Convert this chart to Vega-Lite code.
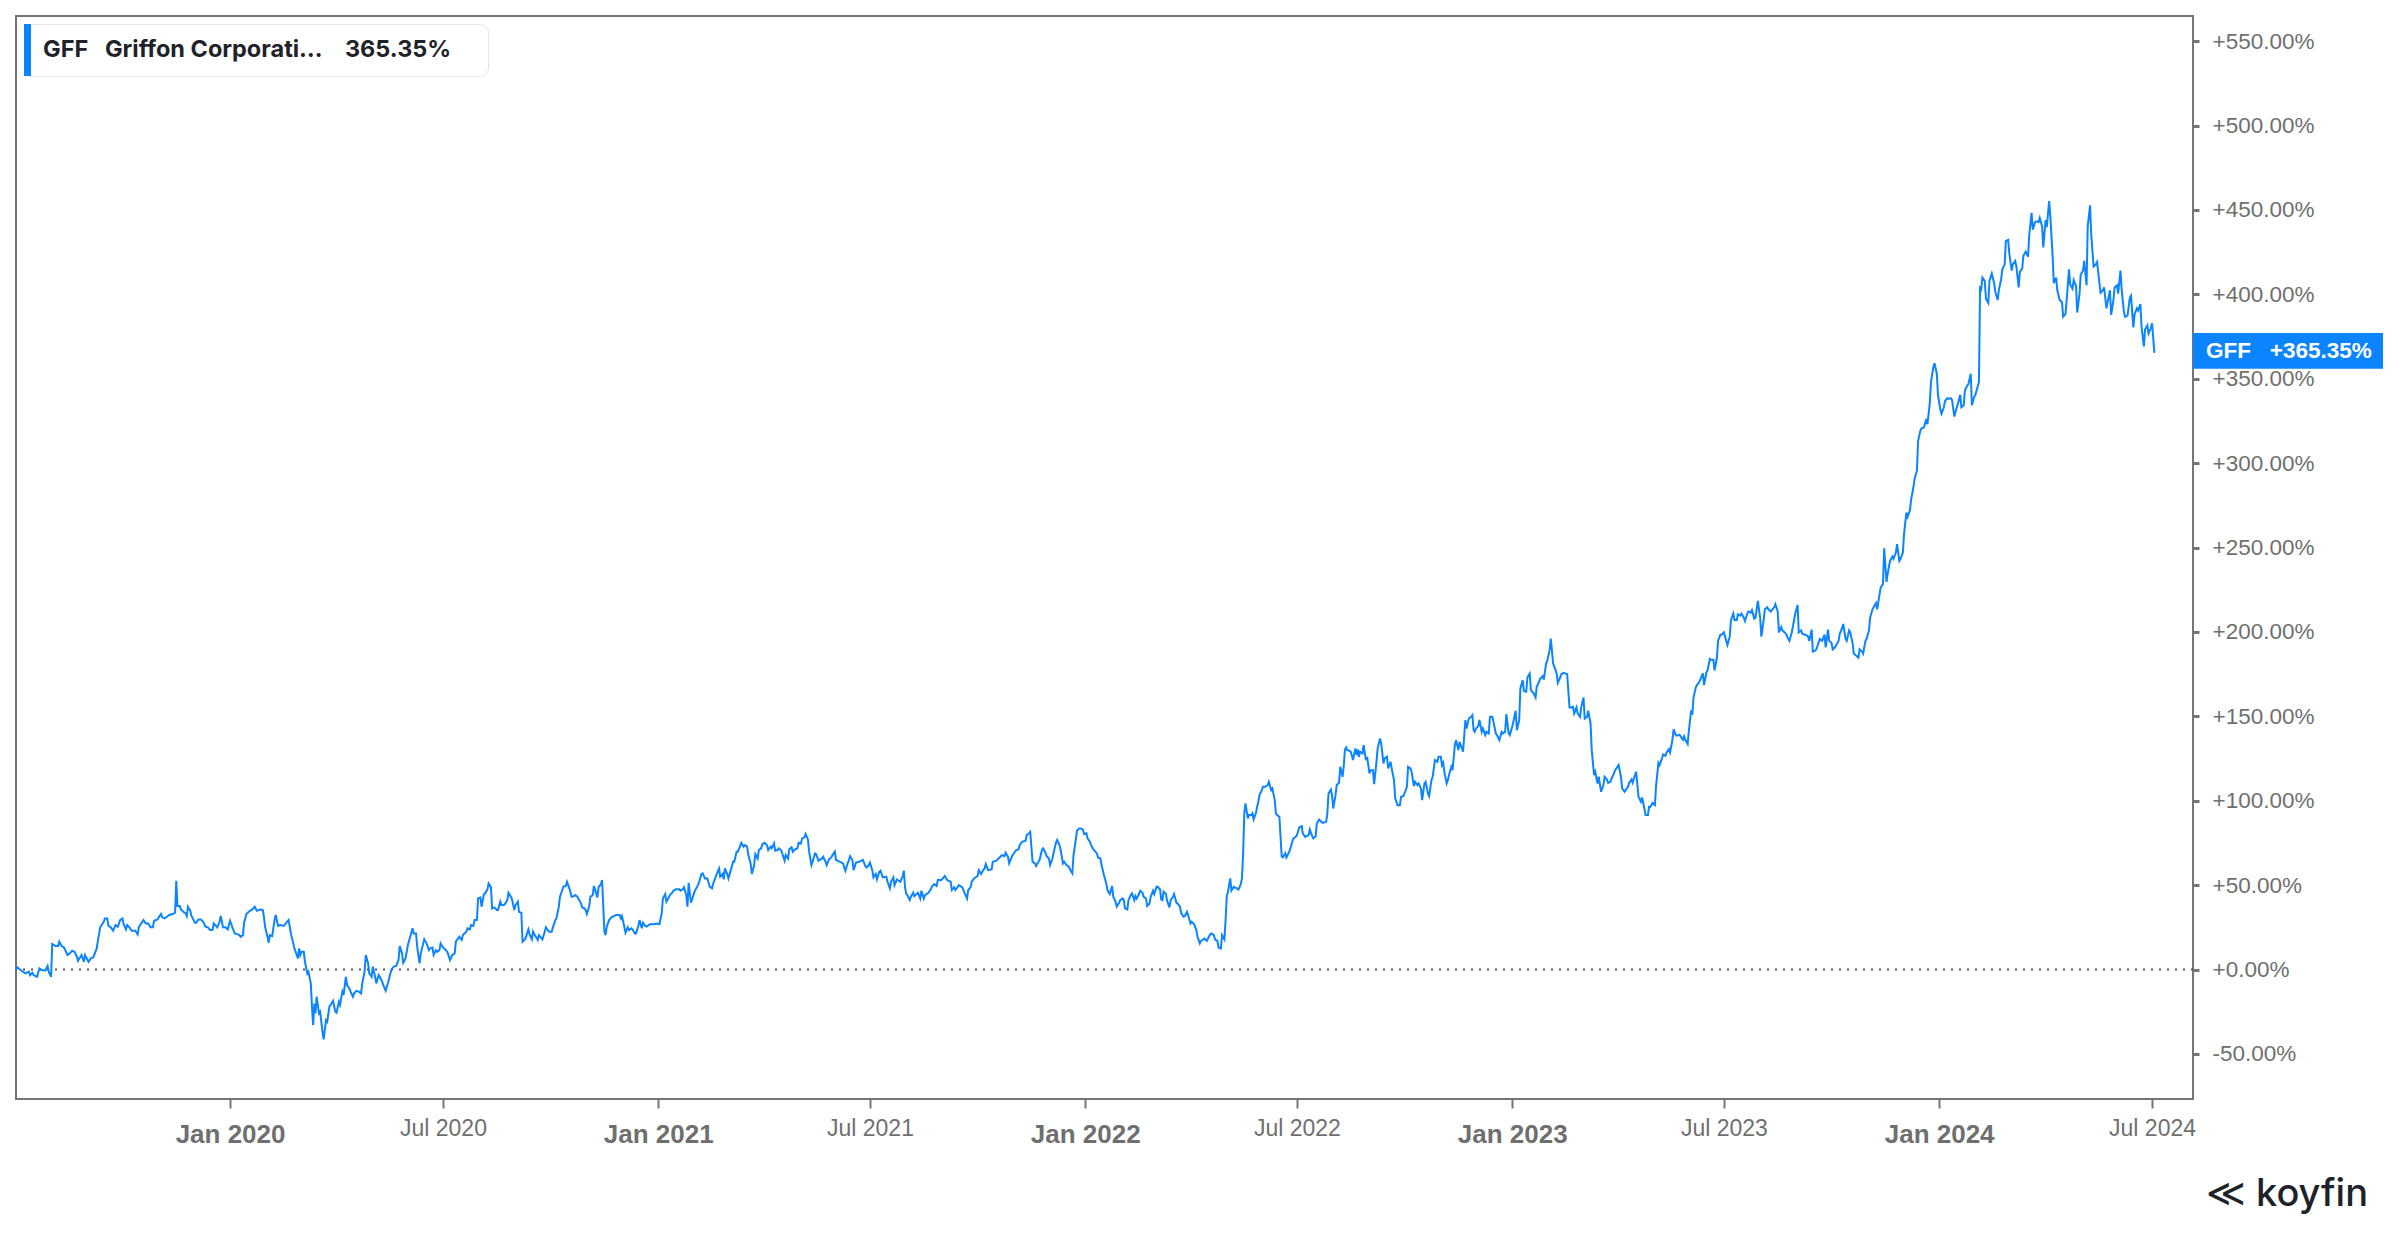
{
"$schema": "https://vega.github.io/schema/vega-lite/v6.json",
"width": 2177,
"height": 1083,
"autosize": {"type": "none"},
"padding": {"left": 16, "top": 16, "right": 207, "bottom": 141},
"background": "white",
"title": {"text": "≪ koyfin", "orient": "bottom", "anchor": "end", "font": "Inter", "fontSize": 38, "fontWeight": 500, "color": "#1e2329", "offset": 29, "dx": -15},
"config": {"view": {"stroke": "#757575", "strokeWidth": 2}},
"data": {"values": [
{"d":"2019-07-02","v":0},{"d":"2019-07-03","v":1.3},{"d":"2019-07-07","v":-0.9},{"d":"2019-07-10","v":-2.3},{"d":"2019-07-13","v":-1.3},{"d":"2019-07-14","v":-3.3},{"d":"2019-07-16","v":-1.9},{"d":"2019-07-17","v":-3.3},{"d":"2019-07-20","v":-4.3},{"d":"2019-07-22","v":0.7},{"d":"2019-07-24","v":-0.3},{"d":"2019-07-27","v":-0.7},{"d":"2019-07-29","v":2.1},{"d":"2019-07-30","v":-1.3},{"d":"2019-08-01","v":-4.3},{"d":"2019-08-02","v":15.1},{"d":"2019-08-05","v":13.9},{"d":"2019-08-07","v":13.9},{"d":"2019-08-08","v":16.5},{"d":"2019-08-10","v":13.9},{"d":"2019-08-12","v":13.1},{"d":"2019-08-15","v":8.6},{"d":"2019-08-17","v":9.6},{"d":"2019-08-19","v":11.1},{"d":"2019-08-21","v":10.5},{"d":"2019-08-23","v":7.6},{"d":"2019-08-24","v":5.2},{"d":"2019-08-27","v":8.6},{"d":"2019-08-29","v":4.6},{"d":"2019-08-30","v":8.6},{"d":"2019-09-02","v":4.6},{"d":"2019-09-04","v":6.6},{"d":"2019-09-06","v":7.2},{"d":"2019-09-09","v":12.5},{"d":"2019-09-10","v":17.1},{"d":"2019-09-12","v":25.0},{"d":"2019-09-15","v":28.3},{"d":"2019-09-16","v":30.3},{"d":"2019-09-18","v":30.3},{"d":"2019-09-19","v":25.8},{"d":"2019-09-21","v":25.0},{"d":"2019-09-23","v":23.0},{"d":"2019-09-25","v":26.3},{"d":"2019-09-27","v":25.4},{"d":"2019-09-29","v":29.3},{"d":"2019-10-01","v":30.3},{"d":"2019-10-02","v":26.9},{"d":"2019-10-04","v":23.8},{"d":"2019-10-05","v":26.3},{"d":"2019-10-07","v":25.0},{"d":"2019-10-09","v":23.0},{"d":"2019-10-12","v":23.0},{"d":"2019-10-14","v":20.8},{"d":"2019-10-15","v":25.0},{"d":"2019-10-17","v":27.3},{"d":"2019-10-19","v":29.3},{"d":"2019-10-21","v":27.3},{"d":"2019-10-23","v":27.3},{"d":"2019-10-25","v":25.0},{"d":"2019-10-27","v":25.0},{"d":"2019-10-28","v":28.9},{"d":"2019-10-31","v":29.7},{"d":"2019-11-01","v":30.9},{"d":"2019-11-03","v":32.9},{"d":"2019-11-04","v":30.9},{"d":"2019-11-06","v":30.3},{"d":"2019-11-08","v":31.3},{"d":"2019-11-10","v":32.3},{"d":"2019-11-13","v":32.9},{"d":"2019-11-15","v":33.7},{"d":"2019-11-16","v":52.6},{"d":"2019-11-17","v":37.6},{"d":"2019-11-19","v":37.6},{"d":"2019-11-20","v":35.6},{"d":"2019-11-22","v":34.2},{"d":"2019-11-24","v":33.3},{"d":"2019-11-25","v":31.7},{"d":"2019-11-26","v":37.2},{"d":"2019-11-28","v":34.8},{"d":"2019-11-29","v":31.7},{"d":"2019-12-02","v":27.7},{"d":"2019-12-03","v":27.7},{"d":"2019-12-05","v":29.7},{"d":"2019-12-07","v":29.7},{"d":"2019-12-09","v":28.3},{"d":"2019-12-11","v":25.4},{"d":"2019-12-13","v":25.0},{"d":"2019-12-15","v":23.4},{"d":"2019-12-17","v":23.4},{"d":"2019-12-18","v":27.3},{"d":"2019-12-21","v":25.0},{"d":"2019-12-23","v":28.3},{"d":"2019-12-24","v":31.7},{"d":"2019-12-26","v":25.0},{"d":"2019-12-28","v":25.0},{"d":"2019-12-30","v":23.8},
{"d":"2020-01-01","v":28.9},{"d":"2020-01-03","v":25.0},{"d":"2020-01-05","v":21.4},{"d":"2020-01-07","v":21.0},{"d":"2020-01-09","v":20.4},{"d":"2020-01-10","v":19.4},{"d":"2020-01-12","v":20.4},{"d":"2020-01-13","v":27.7},{"d":"2020-01-15","v":32.9},{"d":"2020-01-17","v":34.2},{"d":"2020-01-19","v":35.2},{"d":"2020-01-20","v":35.6},{"d":"2020-01-22","v":37.2},{"d":"2020-01-24","v":34.8},{"d":"2020-01-27","v":35.6},{"d":"2020-01-29","v":35.2},{"d":"2020-01-30","v":30.9},{"d":"2020-01-31","v":25.0},{"d":"2020-02-02","v":19.4},{"d":"2020-02-03","v":15.9},{"d":"2020-02-04","v":20.4},{"d":"2020-02-06","v":19.8},{"d":"2020-02-08","v":29.3},{"d":"2020-02-09","v":32.3},{"d":"2020-02-11","v":25.8},{"d":"2020-02-13","v":26.3},{"d":"2020-02-16","v":25.8},{"d":"2020-02-18","v":27.7},{"d":"2020-02-20","v":29.3},{"d":"2020-02-22","v":21.4},{"d":"2020-02-24","v":15.5},{"d":"2020-02-25","v":12.5},{"d":"2020-02-27","v":8.6},{"d":"2020-02-28","v":6.6},{"d":"2020-02-29","v":12.5},{"d":"2020-03-01","v":8.6},{"d":"2020-03-02","v":10.5},{"d":"2020-03-04","v":10.5},{"d":"2020-03-05","v":4.6},{"d":"2020-03-07","v":-2.3},{"d":"2020-03-08","v":-1.3},{"d":"2020-03-10","v":-8.2},{"d":"2020-03-11","v":-22.0},{"d":"2020-03-12","v":-32.9},{"d":"2020-03-13","v":-20.1},{"d":"2020-03-14","v":-26.0},{"d":"2020-03-15","v":-16.1},{"d":"2020-03-17","v":-26.0},{"d":"2020-03-18","v":-25.0},{"d":"2020-03-20","v":-36.8},{"d":"2020-03-21","v":-41.4},{"d":"2020-03-23","v":-30.0},{"d":"2020-03-24","v":-30.9},{"d":"2020-03-26","v":-21.6},{"d":"2020-03-27","v":-21.0},{"d":"2020-03-29","v":-18.5},{"d":"2020-03-31","v":-25.0},{"d":"2020-04-01","v":-25.6},{"d":"2020-04-03","v":-19.1},{"d":"2020-04-04","v":-21.0},{"d":"2020-04-06","v":-13.1},{"d":"2020-04-07","v":-15.1},{"d":"2020-04-09","v":-4.3},{"d":"2020-04-10","v":-9.2},{"d":"2020-04-12","v":-11.2},{"d":"2020-04-13","v":-13.1},{"d":"2020-04-15","v":-16.1},{"d":"2020-04-16","v":-14.1},{"d":"2020-04-18","v":-12.6},{"d":"2020-04-20","v":-13.1},{"d":"2020-04-22","v":-14.1},{"d":"2020-04-23","v":-8.2},{"d":"2020-04-25","v":-1.3},{"d":"2020-04-26","v":8.6},{"d":"2020-04-28","v":3.6},{"d":"2020-04-29","v":-2.3},{"d":"2020-05-01","v":-4.3},{"d":"2020-05-02","v":1.7},{"d":"2020-05-04","v":-4.3},{"d":"2020-05-05","v":-8.2},{"d":"2020-05-07","v":-3.3},{"d":"2020-05-08","v":-4.3},{"d":"2020-05-10","v":-7.2},{"d":"2020-05-11","v":-9.2},{"d":"2020-05-13","v":-12.6},{"d":"2020-05-15","v":-7.8},{"d":"2020-05-18","v":0.1},{"d":"2020-05-20","v":1.7},{"d":"2020-05-22","v":2.1},{"d":"2020-05-24","v":5.6},{"d":"2020-05-25","v":13.9},{"d":"2020-05-27","v":9.6},{"d":"2020-05-28","v":4.0},{"d":"2020-05-30","v":6.6},{"d":"2020-06-01","v":14.5},{"d":"2020-06-03","v":19.4},{"d":"2020-06-05","v":24.4},{"d":"2020-06-06","v":21.4},{"d":"2020-06-08","v":21.4},{"d":"2020-06-09","v":13.1},{"d":"2020-06-11","v":3.6},{"d":"2020-06-12","v":9.6},{"d":"2020-06-15","v":17.9},{"d":"2020-06-17","v":15.5},{"d":"2020-06-19","v":11.5},{"d":"2020-06-20","v":12.5},{"d":"2020-06-22","v":13.1},{"d":"2020-06-23","v":8.6},{"d":"2020-06-25","v":11.5},{"d":"2020-06-26","v":10.5},{"d":"2020-06-28","v":11.5},{"d":"2020-06-29","v":15.5},{"d":"2020-07-01","v":13.1},{"d":"2020-07-02","v":12.5},{"d":"2020-07-04","v":11.1},{"d":"2020-07-05","v":10.0},{"d":"2020-07-07","v":5.6},{"d":"2020-07-09","v":8.6},{"d":"2020-07-11","v":9.6},{"d":"2020-07-12","v":16.5},{"d":"2020-07-15","v":19.4},{"d":"2020-07-17","v":17.5},{"d":"2020-07-18","v":20.4},{"d":"2020-07-21","v":22.4},{"d":"2020-07-22","v":24.4},{"d":"2020-07-24","v":23.8},{"d":"2020-07-25","v":26.3},{"d":"2020-07-27","v":25.8},{"d":"2020-07-28","v":29.3},{"d":"2020-07-30","v":29.3},{"d":"2020-07-31","v":42.1},{"d":"2020-08-02","v":42.7},{"d":"2020-08-03","v":37.2},{"d":"2020-08-05","v":44.7},{"d":"2020-08-06","v":45.1},{"d":"2020-08-08","v":47.5},{"d":"2020-08-09","v":51.0},{"d":"2020-08-11","v":48.7},{"d":"2020-08-12","v":36.2},{"d":"2020-08-14","v":36.8},{"d":"2020-08-16","v":35.2},{"d":"2020-08-17","v":35.2},{"d":"2020-08-19","v":40.2},{"d":"2020-08-20","v":38.2},{"d":"2020-08-22","v":38.2},{"d":"2020-08-23","v":38.8},{"d":"2020-08-25","v":41.2},{"d":"2020-08-26","v":45.5},{"d":"2020-08-28","v":43.1},{"d":"2020-08-29","v":41.6},{"d":"2020-08-31","v":35.2},{"d":"2020-09-01","v":38.2},{"d":"2020-09-03","v":40.2},{"d":"2020-09-04","v":34.2},{"d":"2020-09-06","v":33.6},{"d":"2020-09-07","v":16.5},{"d":"2020-09-09","v":17.9},{"d":"2020-09-10","v":19.4},{"d":"2020-09-12","v":23.8},{"d":"2020-09-13","v":21.0},{"d":"2020-09-15","v":17.9},{"d":"2020-09-16","v":22.4},{"d":"2020-09-18","v":19.8},{"d":"2020-09-20","v":17.5},{"d":"2020-09-21","v":20.4},{"d":"2020-09-24","v":17.9},{"d":"2020-09-26","v":22.4},{"d":"2020-09-27","v":25.0},{"d":"2020-09-29","v":23.0},{"d":"2020-09-30","v":22.4},{"d":"2020-10-02","v":22.4},{"d":"2020-10-03","v":25.0},{"d":"2020-10-05","v":29.3},{"d":"2020-10-06","v":30.3},{"d":"2020-10-08","v":37.2},{"d":"2020-10-09","v":43.1},{"d":"2020-10-11","v":47.1},{"d":"2020-10-12","v":49.1},{"d":"2020-10-14","v":49.5},{"d":"2020-10-15","v":52.0},{"d":"2020-10-17","v":48.1},
{"d":"2020-10-19","v":43.1},{"d":"2020-10-21","v":43.5},{"d":"2020-10-22","v":44.1},{"d":"2020-10-24","v":43.1},{"d":"2020-10-25","v":41.6},{"d":"2020-10-27","v":39.2},{"d":"2020-10-28","v":36.8},{"d":"2020-10-30","v":36.2},{"d":"2020-10-31","v":35.2},{"d":"2020-11-01","v":32.9},{"d":"2020-11-03","v":37.6},{"d":"2020-11-04","v":43.1},{"d":"2020-11-06","v":44.1},{"d":"2020-11-07","v":49.5},{"d":"2020-11-08","v":47.5},{"d":"2020-11-10","v":42.7},{"d":"2020-11-11","v":48.7},{"d":"2020-11-13","v":50.6},{"d":"2020-11-14","v":53.0},{"d":"2020-11-16","v":22.4},{"d":"2020-11-17","v":20.4},{"d":"2020-11-18","v":25.4},{"d":"2020-11-20","v":29.3},{"d":"2020-11-22","v":30.9},{"d":"2020-11-24","v":31.7},{"d":"2020-11-26","v":32.3},{"d":"2020-11-29","v":32.3},{"d":"2020-11-30","v":30.3},{"d":"2020-12-01","v":31.7},{"d":"2020-12-03","v":25.4},{"d":"2020-12-04","v":21.8},{"d":"2020-12-06","v":25.0},{"d":"2020-12-07","v":23.4},{"d":"2020-12-09","v":24.4},{"d":"2020-12-10","v":23.8},{"d":"2020-12-12","v":21.4},{"d":"2020-12-13","v":21.4},{"d":"2020-12-15","v":25.8},{"d":"2020-12-16","v":29.3},{"d":"2020-12-18","v":24.4},{"d":"2020-12-19","v":27.7},{"d":"2020-12-21","v":25.8},{"d":"2020-12-22","v":25.4},{"d":"2020-12-25","v":26.9},{"d":"2020-12-28","v":26.9},{"d":"2020-12-31","v":27.3},
{"d":"2021-01-02","v":26.9},{"d":"2021-01-04","v":33.3},{"d":"2021-01-05","v":42.1},{"d":"2021-01-07","v":44.7},{"d":"2021-01-08","v":40.2},{"d":"2021-01-10","v":42.7},{"d":"2021-01-11","v":44.1},{"d":"2021-01-13","v":45.5},{"d":"2021-01-14","v":46.7},{"d":"2021-01-16","v":47.5},{"d":"2021-01-19","v":47.5},{"d":"2021-01-20","v":46.7},{"d":"2021-01-22","v":47.5},{"d":"2021-01-23","v":48.7},{"d":"2021-01-25","v":44.1},{"d":"2021-01-26","v":37.2},{"d":"2021-01-27","v":51.4},{"d":"2021-01-29","v":39.6},{"d":"2021-01-30","v":41.6},{"d":"2021-02-01","v":46.1},{"d":"2021-02-02","v":47.5},{"d":"2021-02-04","v":50.0},{"d":"2021-02-05","v":52.0},{"d":"2021-02-07","v":56.6},{"d":"2021-02-08","v":57.0},{"d":"2021-02-10","v":54.0},{"d":"2021-02-12","v":54.0},{"d":"2021-02-14","v":49.1},{"d":"2021-02-16","v":48.1},{"d":"2021-02-17","v":51.0},{"d":"2021-02-19","v":54.6},{"d":"2021-02-20","v":56.6},{"d":"2021-02-22","v":59.9},{"d":"2021-02-23","v":55.0},{"d":"2021-02-25","v":56.6},{"d":"2021-02-26","v":53.4},{"d":"2021-02-27","v":59.9},{"d":"2021-03-01","v":56.6},{"d":"2021-03-02","v":54.0},{"d":"2021-03-04","v":58.9},{"d":"2021-03-06","v":63.9},{"d":"2021-03-07","v":63.9},{"d":"2021-03-09","v":69.8},{"d":"2021-03-10","v":69.8},{"d":"2021-03-12","v":73.1},{"d":"2021-03-13","v":75.1},{"d":"2021-03-15","v":72.8},{"d":"2021-03-16","v":73.7},{"d":"2021-03-18","v":72.8},{"d":"2021-03-19","v":67.8},{"d":"2021-03-21","v":62.9},{"d":"2021-03-22","v":56.6},{"d":"2021-03-24","v":61.9},{"d":"2021-03-25","v":68.4},{"d":"2021-03-27","v":65.8},{"d":"2021-03-28","v":70.8},{"d":"2021-03-30","v":71.8},{"d":"2021-03-31","v":74.3},{"d":"2021-04-02","v":75.1},{"d":"2021-04-04","v":73.7},{"d":"2021-04-05","v":70.8},{"d":"2021-04-07","v":72.8},{"d":"2021-04-08","v":71.8},{"d":"2021-04-10","v":74.7},{"d":"2021-04-11","v":70.4},{"d":"2021-04-13","v":70.8},{"d":"2021-04-14","v":71.8},{"d":"2021-04-16","v":70.8},{"d":"2021-04-17","v":68.8},{"d":"2021-04-19","v":64.5},{"d":"2021-04-20","v":67.8},{"d":"2021-04-22","v":65.8},{"d":"2021-04-23","v":71.2},{"d":"2021-04-25","v":72.4},{"d":"2021-04-26","v":69.8},{"d":"2021-04-28","v":71.2},{"d":"2021-04-30","v":71.8},{"d":"2021-05-01","v":75.1},{"d":"2021-05-03","v":74.7},{"d":"2021-05-04","v":77.7},{"d":"2021-05-06","v":78.3},{"d":"2021-05-07","v":80.3},{"d":"2021-05-09","v":77.1},{"d":"2021-05-10","v":69.8},{"d":"2021-05-12","v":61.9},{"d":"2021-05-13","v":63.9},{"d":"2021-05-15","v":68.8},{"d":"2021-05-16","v":68.4},{"d":"2021-05-18","v":64.5},{"d":"2021-05-21","v":65.8},{"d":"2021-05-22","v":66.8},{"d":"2021-05-24","v":63.9},{"d":"2021-05-25","v":61.9},{"d":"2021-05-27","v":65.3},{"d":"2021-05-29","v":66.4},{"d":"2021-05-30","v":67.8},{"d":"2021-06-01","v":69.8},{"d":"2021-06-02","v":64.9},{"d":"2021-06-05","v":63.9},{"d":"2021-06-08","v":62.9},{"d":"2021-06-10","v":58.5},{"d":"2021-06-11","v":60.9},{"d":"2021-06-13","v":64.9},{"d":"2021-06-14","v":67.2},{"d":"2021-06-16","v":64.9},{"d":"2021-06-17","v":58.9},{"d":"2021-06-19","v":63.3},{"d":"2021-06-22","v":63.9},{"d":"2021-06-25","v":64.9},{"d":"2021-06-27","v":61.3},{"d":"2021-06-28","v":60.5},{"d":"2021-06-30","v":61.9},{"d":"2021-07-01","v":63.3},{"d":"2021-07-03","v":58.9},{"d":"2021-07-04","v":54.6},{"d":"2021-07-06","v":56.6},{"d":"2021-07-07","v":53.4},{"d":"2021-07-09","v":57.9},{"d":"2021-07-10","v":58.5},{"d":"2021-07-12","v":54.6},{"d":"2021-07-15","v":55.0},{"d":"2021-07-16","v":52.0},{"d":"2021-07-18","v":48.1},{"d":"2021-07-19","v":52.0},{"d":"2021-07-21","v":54.6},{"d":"2021-07-22","v":50.0},{"d":"2021-07-24","v":53.4},{"d":"2021-07-27","v":52.0},{"d":"2021-07-29","v":55.4},{"d":"2021-07-30","v":58.5},{"d":"2021-07-31","v":48.7},{"d":"2021-08-01","v":44.7},{"d":"2021-08-02","v":44.1},{"d":"2021-08-04","v":41.2},{"d":"2021-08-05","v":43.1},{"d":"2021-08-07","v":45.5},{"d":"2021-08-08","v":43.5},{"d":"2021-08-11","v":45.5},{"d":"2021-08-13","v":42.1},{"d":"2021-08-14","v":46.7},{"d":"2021-08-16","v":42.1},{"d":"2021-08-17","v":44.1},{"d":"2021-08-20","v":45.5},{"d":"2021-08-22","v":47.5},{"d":"2021-08-23","v":49.1},{"d":"2021-08-25","v":50.6},{"d":"2021-08-27","v":49.5},{"d":"2021-08-28","v":53.0},{"d":"2021-08-31","v":53.0},{"d":"2021-09-03","v":55.4},{"d":"2021-09-05","v":53.0},{"d":"2021-09-08","v":52.0},{"d":"2021-09-09","v":47.1},{"d":"2021-09-11","v":48.7},{"d":"2021-09-12","v":47.1},{"d":"2021-09-15","v":50.0},{"d":"2021-09-18","v":48.7},{"d":"2021-09-20","v":45.1},{"d":"2021-09-22","v":42.1},{"d":"2021-09-23","v":47.1},{"d":"2021-09-25","v":48.7},{"d":"2021-09-26","v":52.0},{"d":"2021-09-28","v":54.0},{"d":"2021-10-01","v":55.4},{"d":"2021-10-02","v":58.9},{"d":"2021-10-04","v":56.6},{"d":"2021-10-05","v":57.9},{"d":"2021-10-07","v":59.9},{"d":"2021-10-08","v":62.5},{"d":"2021-10-10","v":58.9},{"d":"2021-10-13","v":59.3},{"d":"2021-10-14","v":63.9},{"d":"2021-10-17","v":64.5},{"d":"2021-10-19","v":65.8},{"d":"2021-10-21","v":67.2},{"d":"2021-10-22","v":67.8},{"d":"2021-10-24","v":67.2},{"d":"2021-10-25","v":69.2},{"d":"2021-10-27","v":66.8},{"d":"2021-10-28","v":62.9},{"d":"2021-10-30","v":66.4},{"d":"2021-10-31","v":67.8},{"d":"2021-11-02","v":69.8},{"d":"2021-11-03","v":70.8},{"d":"2021-11-05","v":71.2},{"d":"2021-11-06","v":73.7},{"d":"2021-11-08","v":75.7},{"d":"2021-11-11","v":76.3},{"d":"2021-11-12","v":79.7},{"d":"2021-11-14","v":80.7},{"d":"2021-11-15","v":81.6},{"d":"2021-11-17","v":63.9},{"d":"2021-11-19","v":62.9},{"d":"2021-11-20","v":61.3},{"d":"2021-11-22","v":63.9},{"d":"2021-11-23","v":64.9},{"d":"2021-11-25","v":70.8},{"d":"2021-11-26","v":71.8},{"d":"2021-11-28","v":69.2},{"d":"2021-11-29","v":67.2},{"d":"2021-12-01","v":65.8},{"d":"2021-12-02","v":61.9},{"d":"2021-12-04","v":65.8},{"d":"2021-12-05","v":69.2},{"d":"2021-12-07","v":75.1},{"d":"2021-12-08","v":76.7},{"d":"2021-12-10","v":73.7},{"d":"2021-12-11","v":70.8},{"d":"2021-12-13","v":62.9},{"d":"2021-12-14","v":63.9},{"d":"2021-12-16","v":61.9},{"d":"2021-12-18","v":60.9},{"d":"2021-12-19","v":59.3},{"d":"2021-12-21","v":57.0},{"d":"2021-12-22","v":67.8},{"d":"2021-12-24","v":77.1},{"d":"2021-12-25","v":82.2},{"d":"2021-12-27","v":83.6},{"d":"2021-12-28","v":83.6},{"d":"2021-12-30","v":83.0},{"d":"2021-12-31","v":80.3},
{"d":"2022-01-02","v":80.7},{"d":"2022-01-03","v":77.7},{"d":"2022-01-05","v":75.7},{"d":"2022-01-06","v":73.7},{"d":"2022-01-08","v":71.2},{"d":"2022-01-09","v":70.4},{"d":"2022-01-11","v":68.8},{"d":"2022-01-12","v":66.4},{"d":"2022-01-14","v":65.8},{"d":"2022-01-15","v":61.9},{"d":"2022-01-17","v":56.0},{"d":"2022-01-19","v":51.0},{"d":"2022-01-20","v":47.1},{"d":"2022-01-22","v":44.7},{"d":"2022-01-24","v":49.4},{"d":"2022-01-25","v":43.1},{"d":"2022-01-27","v":40.1},{"d":"2022-01-28","v":37.2},{"d":"2022-01-30","v":39.5},{"d":"2022-01-31","v":41.1},{"d":"2022-02-02","v":42.1},{"d":"2022-02-03","v":41.1},{"d":"2022-02-04","v":36.2},{"d":"2022-02-06","v":35.6},{"d":"2022-02-07","v":41.1},{"d":"2022-02-09","v":44.1},{"d":"2022-02-10","v":45.1},{"d":"2022-02-12","v":41.1},{"d":"2022-02-13","v":43.5},{"d":"2022-02-14","v":42.1},{"d":"2022-02-16","v":44.7},{"d":"2022-02-17","v":46.7},{"d":"2022-02-19","v":45.5},{"d":"2022-02-20","v":43.1},{"d":"2022-02-22","v":42.1},{"d":"2022-02-23","v":37.6},{"d":"2022-02-25","v":39.1},{"d":"2022-02-26","v":43.1},{"d":"2022-02-28","v":46.7},{"d":"2022-03-01","v":44.7},{"d":"2022-03-03","v":49.0},{"d":"2022-03-04","v":49.0},{"d":"2022-03-06","v":47.4},{"d":"2022-03-07","v":41.5},{"d":"2022-03-08","v":41.1},{"d":"2022-03-09","v":46.1},{"d":"2022-03-11","v":44.7},{"d":"2022-03-12","v":40.7},{"d":"2022-03-14","v":36.8},{"d":"2022-03-15","v":41.1},{"d":"2022-03-17","v":43.1},{"d":"2022-03-18","v":44.7},{"d":"2022-03-20","v":39.5},{"d":"2022-03-21","v":39.1},{"d":"2022-03-23","v":37.2},{"d":"2022-03-24","v":33.6},{"d":"2022-03-26","v":31.3},{"d":"2022-03-27","v":31.6},{"d":"2022-03-29","v":34.2},{"d":"2022-03-30","v":32.2},{"d":"2022-04-01","v":27.3},{"d":"2022-04-02","v":28.3},{"d":"2022-04-04","v":26.9},{"d":"2022-04-06","v":23.4},{"d":"2022-04-07","v":19.4},{"d":"2022-04-09","v":15.5},{"d":"2022-04-10","v":17.0},{"d":"2022-04-12","v":17.8},{"d":"2022-04-13","v":18.4},{"d":"2022-04-15","v":17.0},{"d":"2022-04-16","v":18.4},{"d":"2022-04-18","v":21.0},{"d":"2022-04-19","v":21.4},{"d":"2022-04-21","v":20.4},{"d":"2022-04-22","v":17.8},{"d":"2022-04-24","v":17.0},{"d":"2022-04-25","v":13.1},{"d":"2022-04-27","v":12.5},{"d":"2022-04-28","v":20.4},{"d":"2022-04-30","v":17.8},{"d":"2022-05-01","v":29.3},{"d":"2022-05-02","v":43.1},{"d":"2022-05-03","v":46.1},{"d":"2022-05-04","v":50.0},{"d":"2022-05-05","v":54.0},{"d":"2022-05-06","v":46.7},{"d":"2022-05-08","v":49.0},{"d":"2022-05-11","v":48.0},{"d":"2022-05-12","v":47.4},{"d":"2022-05-14","v":50.6},{"d":"2022-05-15","v":54.0},{"d":"2022-05-16","v":68.8},{"d":"2022-05-17","v":92.5},{"d":"2022-05-18","v":98.4},{"d":"2022-05-20","v":89.5},{"d":"2022-05-21","v":91.5},{"d":"2022-05-23","v":91.5},{"d":"2022-05-24","v":92.5},{"d":"2022-05-25","v":88.9},{"d":"2022-05-27","v":92.9},{"d":"2022-05-28","v":96.4},{"d":"2022-05-29","v":99.4},{"d":"2022-05-30","v":103.3},{"d":"2022-06-01","v":106.3},{"d":"2022-06-02","v":108.3},{"d":"2022-06-04","v":108.3},{"d":"2022-06-06","v":109.3},{"d":"2022-06-07","v":111.2},{"d":"2022-06-09","v":106.3},{"d":"2022-06-10","v":107.3},{"d":"2022-06-12","v":100.4},{"d":"2022-06-13","v":92.5},{"d":"2022-06-14","v":91.5},{"d":"2022-06-16","v":90.5},{"d":"2022-06-17","v":78.6},{"d":"2022-06-18","v":66.8},{"d":"2022-06-19","v":66.4},{"d":"2022-06-21","v":68.8},{"d":"2022-06-22","v":66.4},{"d":"2022-06-24","v":69.2},{"d":"2022-06-25","v":70.7},{"d":"2022-06-27","v":75.7},{"d":"2022-06-28","v":77.7},{"d":"2022-06-30","v":78.6},{"d":"2022-07-01","v":79.6},{"d":"2022-07-03","v":84.2},{"d":"2022-07-05","v":85.0},{"d":"2022-07-06","v":80.6},{"d":"2022-07-08","v":78.6},{"d":"2022-07-09","v":79.0},{"d":"2022-07-11","v":79.6},{"d":"2022-07-12","v":83.0},{"d":"2022-07-14","v":79.0},{"d":"2022-07-15","v":77.7},{"d":"2022-07-17","v":79.0},{"d":"2022-07-18","v":86.5},{"d":"2022-07-20","v":88.9},{"d":"2022-07-21","v":88.1},{"d":"2022-07-23","v":86.9},{"d":"2022-07-26","v":87.5},{"d":"2022-07-27","v":92.5},{"d":"2022-07-28","v":104.3},{"d":"2022-07-30","v":106.7},{"d":"2022-07-31","v":103.3},{"d":"2022-08-01","v":95.4},{"d":"2022-08-03","v":103.3},{"d":"2022-08-04","v":109.3},{"d":"2022-08-06","v":110.6},{"d":"2022-08-07","v":120.1},{"d":"2022-08-09","v":114.2},{"d":"2022-08-10","v":120.5},{"d":"2022-08-11","v":130.0},{"d":"2022-08-12","v":131.6},{"d":"2022-08-13","v":130.0},{"d":"2022-08-15","v":129.6},{"d":"2022-08-16","v":129.0},{"d":"2022-08-18","v":124.1},{"d":"2022-08-19","v":128.0},{"d":"2022-08-20","v":131.0},{"d":"2022-08-21","v":127.0},{"d":"2022-08-22","v":130.4},{"d":"2022-08-23","v":126.0},{"d":"2022-08-24","v":129.0},{"d":"2022-08-26","v":128.0},{"d":"2022-08-27","v":133.0},{"d":"2022-08-29","v":124.1},{"d":"2022-08-30","v":126.0},{"d":"2022-09-01","v":116.2},{"d":"2022-09-02","v":118.1},{"d":"2022-09-04","v":118.1},{"d":"2022-09-05","v":109.8},{"d":"2022-09-07","v":123.1},{"d":"2022-09-08","v":131.0},{"d":"2022-09-10","v":136.9},{"d":"2022-09-11","v":133.9},{"d":"2022-09-13","v":122.1},{"d":"2022-09-14","v":125.1},{"d":"2022-09-16","v":126.0},{"d":"2022-09-17","v":119.1},{"d":"2022-09-19","v":123.1},{"d":"2022-09-20","v":119.1},{"d":"2022-09-22","v":112.2},{"d":"2022-09-23","v":101.4},{"d":"2022-09-25","v":97.4},{"d":"2022-09-27","v":97.4},{"d":"2022-09-28","v":102.3},{"d":"2022-09-30","v":102.7},{"d":"2022-10-01","v":104.3},{"d":"2022-10-03","v":108.3},{"d":"2022-10-04","v":120.1},{"d":"2022-10-06","v":119.1},{"d":"2022-10-07","v":117.2},{"d":"2022-10-09","v":108.7},{"d":"2022-10-10","v":111.2},{"d":"2022-10-12","v":109.3},{"d":"2022-10-13","v":110.2},{"d":"2022-10-15","v":107.3},{"d":"2022-10-16","v":100.4},{"d":"2022-10-18","v":110.2},{"d":"2022-10-19","v":111.2},{"d":"2022-10-21","v":104.3},{"d":"2022-10-22","v":102.7},{"d":"2022-10-24","v":112.2},{"d":"2022-10-25","v":114.2},{"d":"2022-10-27","v":124.1},{"d":"2022-10-29","v":123.1},{"d":"2022-10-30","v":126.0},{"d":"2022-11-01","v":126.0},{"d":"2022-11-02","v":121.1},{"d":"2022-11-03","v":122.5},{"d":"2022-11-04","v":117.2},{"d":"2022-11-06","v":110.2},{"d":"2022-11-07","v":112.2},{"d":"2022-11-08","v":115.2},{"d":"2022-11-10","v":120.1},{"d":"2022-11-11","v":118.1},{"d":"2022-11-13","v":133.0},{"d":"2022-11-14","v":135.9},{"d":"2022-11-16","v":130.0},{"d":"2022-11-17","v":134.9},{"d":"2022-11-19","v":131.0},{"d":"2022-11-20","v":129.0},{"d":"2022-11-22","v":147.8},{"d":"2022-11-23","v":142.8},{"d":"2022-11-25","v":148.7},{"d":"2022-11-27","v":149.7},{"d":"2022-11-28","v":150.7},{"d":"2022-11-29","v":141.8},{"d":"2022-11-30","v":140.8},{"d":"2022-12-01","v":142.8},{"d":"2022-12-03","v":144.2},{"d":"2022-12-04","v":147.8},{"d":"2022-12-06","v":140.8},{"d":"2022-12-07","v":142.8},{"d":"2022-12-09","v":138.9},{"d":"2022-12-10","v":140.8},{"d":"2022-12-12","v":139.9},{"d":"2022-12-13","v":149.7},{"d":"2022-12-15","v":149.7},{"d":"2022-12-16","v":146.8},{"d":"2022-12-18","v":139.9},{"d":"2022-12-19","v":138.9},{"d":"2022-12-21","v":135.9},{"d":"2022-12-23","v":140.8},{"d":"2022-12-24","v":139.9},{"d":"2022-12-26","v":140.8},{"d":"2022-12-27","v":151.3},{"d":"2022-12-29","v":139.9},{"d":"2022-12-30","v":138.9},
{"d":"2023-01-01","v":143.8},{"d":"2023-01-02","v":146.8},{"d":"2023-01-04","v":153.3},{"d":"2023-01-05","v":141.8},{"d":"2023-01-07","v":147.8},{"d":"2023-01-08","v":166.5},{"d":"2023-01-10","v":171.5},{"d":"2023-01-11","v":165.1},{"d":"2023-01-13","v":164.5},{"d":"2023-01-14","v":173.0},{"d":"2023-01-16","v":175.4},{"d":"2023-01-17","v":165.5},{"d":"2023-01-19","v":164.0},{"d":"2023-01-21","v":161.2},{"d":"2023-01-22","v":167.5},{"d":"2023-01-24","v":170.5},{"d":"2023-01-25","v":172.4},{"d":"2023-01-27","v":173.8},{"d":"2023-01-28","v":171.8},{"d":"2023-01-30","v":181.3},{"d":"2023-01-31","v":182.9},{"d":"2023-02-02","v":189.2},{"d":"2023-02-03","v":196.1},{"d":"2023-02-05","v":181.3},{"d":"2023-02-06","v":179.4},{"d":"2023-02-08","v":175.4},{"d":"2023-02-09","v":169.9},{"d":"2023-02-11","v":173.0},{"d":"2023-02-12","v":175.0},{"d":"2023-02-14","v":175.8},{"d":"2023-02-17","v":175.0},{"d":"2023-02-19","v":155.3},{"d":"2023-02-20","v":155.3},{"d":"2023-02-22","v":155.7},{"d":"2023-02-23","v":151.7},{"d":"2023-02-25","v":155.3},{"d":"2023-02-26","v":151.7},{"d":"2023-02-28","v":149.7},{"d":"2023-03-01","v":155.3},{"d":"2023-03-03","v":161.2},{"d":"2023-03-04","v":148.7},{"d":"2023-03-06","v":149.7},{"d":"2023-03-07","v":153.3},{"d":"2023-03-09","v":145.8},{"d":"2023-03-10","v":130.0},{"d":"2023-03-12","v":115.2},{"d":"2023-03-13","v":117.2},{"d":"2023-03-15","v":110.2},{"d":"2023-03-16","v":114.2},{"d":"2023-03-18","v":105.3},{"d":"2023-03-20","v":109.3},{"d":"2023-03-21","v":114.2},{"d":"2023-03-23","v":112.6},{"d":"2023-03-24","v":110.6},{"d":"2023-03-26","v":111.2},{"d":"2023-03-27","v":113.2},{"d":"2023-03-29","v":116.2},{"d":"2023-03-30","v":118.1},{"d":"2023-04-01","v":120.1},{"d":"2023-04-02","v":121.1},{"d":"2023-04-04","v":114.2},{"d":"2023-04-05","v":107.3},{"d":"2023-04-07","v":105.3},{"d":"2023-04-08","v":106.3},{"d":"2023-04-10","v":108.3},{"d":"2023-04-11","v":110.6},{"d":"2023-04-13","v":112.6},{"d":"2023-04-14","v":110.6},{"d":"2023-04-16","v":115.2},{"d":"2023-04-17","v":117.2},{"d":"2023-04-19","v":102.3},{"d":"2023-04-21","v":99.4},{"d":"2023-04-22","v":101.9},{"d":"2023-04-24","v":95.4},{"d":"2023-04-25","v":91.5},{"d":"2023-04-27","v":91.5},{"d":"2023-04-28","v":96.4},{"d":"2023-04-29","v":96.2},{"d":"2023-05-01","v":98.7},{"d":"2023-05-03","v":97.4},{"d":"2023-05-04","v":108.7},{"d":"2023-05-06","v":122.4},{"d":"2023-05-07","v":121.1},{"d":"2023-05-09","v":124.9},{"d":"2023-05-10","v":127.4},{"d":"2023-05-12","v":126.6},{"d":"2023-05-13","v":128.6},{"d":"2023-05-15","v":130.6},{"d":"2023-05-16","v":128.6},{"d":"2023-05-18","v":136.1},{"d":"2023-05-19","v":142.3},{"d":"2023-05-21","v":138.6},{"d":"2023-05-22","v":138.6},{"d":"2023-05-24","v":139.1},{"d":"2023-05-25","v":138.1},{"d":"2023-05-27","v":136.1},{"d":"2023-05-28","v":138.1},{"d":"2023-05-29","v":136.1},{"d":"2023-05-31","v":133.6},{"d":"2023-06-01","v":141.1},{"d":"2023-06-03","v":153.6},{"d":"2023-06-04","v":151.0},{"d":"2023-06-05","v":161.0},{"d":"2023-06-07","v":167.3},{"d":"2023-06-08","v":168.5},{"d":"2023-06-10","v":170.5},{"d":"2023-06-11","v":172.2},{"d":"2023-06-13","v":175.5},{"d":"2023-06-14","v":168.5},{"d":"2023-06-16","v":176.0},{"d":"2023-06-17","v":177.2},{"d":"2023-06-19","v":184.0},{"d":"2023-06-20","v":183.5},{"d":"2023-06-22","v":183.5},{"d":"2023-06-23","v":177.2},{"d":"2023-06-25","v":184.7},{"d":"2023-06-26","v":194.7},{"d":"2023-06-28","v":198.4},{"d":"2023-06-29","v":198.4},{"d":"2023-07-01","v":199.7},{"d":"2023-07-03","v":194.7},{"d":"2023-07-04","v":192.2},{"d":"2023-07-06","v":197.2},{"d":"2023-07-07","v":207.1},{"d":"2023-07-09","v":210.9},{"d":"2023-07-10","v":207.1},{"d":"2023-07-12","v":207.1},{"d":"2023-07-13","v":210.4},{"d":"2023-07-15","v":209.6},{"d":"2023-07-16","v":210.9},{"d":"2023-07-18","v":208.4},{"d":"2023-07-19","v":206.4},{"d":"2023-07-21","v":210.9},{"d":"2023-07-22","v":212.1},{"d":"2023-07-24","v":211.4},{"d":"2023-07-25","v":212.9},{"d":"2023-07-27","v":207.9},{"d":"2023-07-28","v":208.4},{"d":"2023-07-30","v":218.4},{"d":"2023-08-01","v":208.4},{"d":"2023-08-02","v":197.2},{"d":"2023-08-04","v":207.1},{"d":"2023-08-05","v":213.4},{"d":"2023-08-07","v":214.6},{"d":"2023-08-08","v":213.4},{"d":"2023-08-10","v":212.1},{"d":"2023-08-11","v":212.9},{"d":"2023-08-13","v":214.6},{"d":"2023-08-14","v":216.4},{"d":"2023-08-16","v":212.1},{"d":"2023-08-17","v":199.7},{"d":"2023-08-19","v":202.9},{"d":"2023-08-20","v":200.9},{"d":"2023-08-22","v":199.7},{"d":"2023-08-23","v":198.9},{"d":"2023-08-25","v":195.9},{"d":"2023-08-26","v":194.7},{"d":"2023-08-28","v":199.7},{"d":"2023-08-30","v":207.1},{"d":"2023-08-31","v":210.9},{"d":"2023-09-02","v":215.9},{"d":"2023-09-03","v":199.7},{"d":"2023-09-05","v":200.9},{"d":"2023-09-06","v":198.9},{"d":"2023-09-08","v":198.4},{"d":"2023-09-09","v":198.4},{"d":"2023-09-11","v":197.2},{"d":"2023-09-12","v":194.7},{"d":"2023-09-14","v":201.4},{"d":"2023-09-15","v":188.4},{"d":"2023-09-17","v":188.9},{"d":"2023-09-18","v":189.7},{"d":"2023-09-20","v":193.9},{"d":"2023-09-21","v":195.9},{"d":"2023-09-23","v":194.7},{"d":"2023-09-25","v":198.4},{"d":"2023-09-26","v":190.9},{"d":"2023-09-28","v":201.4},{"d":"2023-09-29","v":194.7},{"d":"2023-10-01","v":193.4},{"d":"2023-10-02","v":189.7},{"d":"2023-10-04","v":190.9},{"d":"2023-10-05","v":192.2},{"d":"2023-10-07","v":194.7},{"d":"2023-10-08","v":198.9},{"d":"2023-10-10","v":202.2},{"d":"2023-10-11","v":204.7},{"d":"2023-10-13","v":195.9},{"d":"2023-10-14","v":194.7},{"d":"2023-10-16","v":200.9},{"d":"2023-10-17","v":199.7},{"d":"2023-10-19","v":193.4},{"d":"2023-10-20","v":187.2},{"d":"2023-10-22","v":186.0},{"d":"2023-10-24","v":184.7},{"d":"2023-10-25","v":189.7},{"d":"2023-10-27","v":188.4},{"d":"2023-10-28","v":187.2},{"d":"2023-10-30","v":194.7},{"d":"2023-10-31","v":195.9},{"d":"2023-11-02","v":200.9},{"d":"2023-11-03","v":208.4},{"d":"2023-11-05","v":213.4},{"d":"2023-11-06","v":214.6},{"d":"2023-11-08","v":217.1},{"d":"2023-11-09","v":213.4},{"d":"2023-11-11","v":222.1},{"d":"2023-11-12","v":226.3},{"d":"2023-11-14","v":228.3},{"d":"2023-11-15","v":249.5},{"d":"2023-11-17","v":229.6},{"d":"2023-11-18","v":234.6},{"d":"2023-11-20","v":242.1},{"d":"2023-11-22","v":244.6},{"d":"2023-11-23","v":243.3},{"d":"2023-11-25","v":247.0},{"d":"2023-11-26","v":252.0},{"d":"2023-11-28","v":242.1},{"d":"2023-11-29","v":243.3},{"d":"2023-12-01","v":247.0},{"d":"2023-12-02","v":258.3},{"d":"2023-12-04","v":270.7},{"d":"2023-12-05","v":268.2},{"d":"2023-12-07","v":272.0},{"d":"2023-12-08","v":278.2},{"d":"2023-12-10","v":285.7},{"d":"2023-12-11","v":290.7},{"d":"2023-12-13","v":295.7},{"d":"2023-12-14","v":313.1},{"d":"2023-12-16","v":319.4},{"d":"2023-12-17","v":320.6},{"d":"2023-12-19","v":321.1},{"d":"2023-12-21","v":326.1},{"d":"2023-12-22","v":323.1},{"d":"2023-12-24","v":335.6},{"d":"2023-12-25","v":348.0},{"d":"2023-12-27","v":356.7},{"d":"2023-12-28","v":359.2},{"d":"2023-12-30","v":353.0},{"d":"2023-12-31","v":340.5},
{"d":"2024-01-02","v":331.8},{"d":"2024-01-03","v":329.3},{"d":"2024-01-05","v":333.1},{"d":"2024-01-06","v":336.8},{"d":"2024-01-08","v":338.5},{"d":"2024-01-09","v":338.0},{"d":"2024-01-11","v":338.5},{"d":"2024-01-12","v":337.5},{"d":"2024-01-14","v":327.6},{"d":"2024-01-15","v":330.6},{"d":"2024-01-17","v":335.1},{"d":"2024-01-19","v":340.5},{"d":"2024-01-20","v":333.1},{"d":"2024-01-22","v":334.3},{"d":"2024-01-23","v":343.0},{"d":"2024-01-25","v":346.0},{"d":"2024-01-26","v":346.8},{"d":"2024-01-28","v":353.0},{"d":"2024-01-29","v":334.3},{"d":"2024-01-31","v":339.3},{"d":"2024-02-01","v":340.5},{"d":"2024-02-03","v":345.5},{"d":"2024-02-04","v":348.0},{"d":"2024-02-05","v":404.9},{"d":"2024-02-06","v":403.4},{"d":"2024-02-07","v":409.9},{"d":"2024-02-09","v":407.9},{"d":"2024-02-10","v":397.4},{"d":"2024-02-12","v":394.9},{"d":"2024-02-13","v":407.9},{"d":"2024-02-15","v":412.3},{"d":"2024-02-17","v":406.6},{"d":"2024-02-18","v":401.6},{"d":"2024-02-20","v":396.6},{"d":"2024-02-21","v":402.4},{"d":"2024-02-23","v":409.1},{"d":"2024-02-24","v":414.8},{"d":"2024-02-26","v":417.8},{"d":"2024-02-27","v":431.5},{"d":"2024-02-29","v":432.3},{"d":"2024-03-01","v":424.1},{"d":"2024-03-03","v":414.1},{"d":"2024-03-04","v":417.8},{"d":"2024-03-06","v":419.8},{"d":"2024-03-07","v":416.6},{"d":"2024-03-09","v":404.1},{"d":"2024-03-10","v":413.3},{"d":"2024-03-12","v":415.3},{"d":"2024-03-13","v":422.8},{"d":"2024-03-15","v":425.3},{"d":"2024-03-17","v":422.3},{"d":"2024-03-18","v":435.3},{"d":"2024-03-20","v":448.3},{"d":"2024-03-21","v":438.3},{"d":"2024-03-23","v":442.8},{"d":"2024-03-24","v":443.3},{"d":"2024-03-26","v":442.8},{"d":"2024-03-27","v":445.3},{"d":"2024-03-29","v":440.3},{"d":"2024-03-30","v":427.8},{"d":"2024-04-01","v":444.0},{"d":"2024-04-02","v":439.8},{"d":"2024-04-04","v":455.2},{"d":"2024-04-05","v":446.5},{"d":"2024-04-07","v":422.8},{"d":"2024-04-08","v":406.6},{"d":"2024-04-10","v":409.9},{"d":"2024-04-11","v":402.4},{"d":"2024-04-13","v":396.6},{"d":"2024-04-15","v":395.4},{"d":"2024-04-16","v":386.7},{"d":"2024-04-18","v":388.4},{"d":"2024-04-19","v":396.6},{"d":"2024-04-21","v":414.8},{"d":"2024-04-22","v":405.9},{"d":"2024-04-24","v":403.4},{"d":"2024-04-25","v":408.4},{"d":"2024-04-27","v":404.9},{"d":"2024-04-28","v":389.2},{"d":"2024-04-30","v":400.4},{"d":"2024-05-01","v":411.6},{"d":"2024-05-03","v":414.1},{"d":"2024-05-04","v":419.8},{"d":"2024-05-06","v":405.4},{"d":"2024-05-07","v":440.3},{"d":"2024-05-09","v":452.7},{"d":"2024-05-10","v":435.3},{"d":"2024-05-12","v":416.6},{"d":"2024-05-14","v":417.8},{"d":"2024-05-15","v":419.1},{"d":"2024-05-17","v":406.6},{"d":"2024-05-18","v":400.9},{"d":"2024-05-20","v":402.4},{"d":"2024-05-21","v":404.1},{"d":"2024-05-23","v":391.7},{"d":"2024-05-24","v":395.4},{"d":"2024-05-26","v":402.4},{"d":"2024-05-27","v":387.9},{"d":"2024-05-29","v":396.6},{"d":"2024-05-30","v":404.1},{"d":"2024-06-01","v":405.4},{"d":"2024-06-02","v":400.4},{"d":"2024-06-04","v":414.1},{"d":"2024-06-05","v":402.9},{"d":"2024-06-07","v":389.2},{"d":"2024-06-08","v":386.7},{"d":"2024-06-10","v":387.4},{"d":"2024-06-12","v":397.9},{"d":"2024-06-13","v":399.1},{"d":"2024-06-15","v":380.4},{"d":"2024-06-16","v":387.9},{"d":"2024-06-18","v":391.7},{"d":"2024-06-19","v":390.4},{"d":"2024-06-21","v":394.2},{"d":"2024-06-22","v":380.9},{"d":"2024-06-24","v":369.2},{"d":"2024-06-25","v":379.2},{"d":"2024-06-27","v":381.7},{"d":"2024-06-28","v":376.7},{"d":"2024-06-30","v":379.9},{"d":"2024-07-01","v":382.9},{"d":"2024-07-03","v":365.35}
]},
"layer": [
{
"data": {"values": [{"v": 0}]},
"mark": {"type": "rule", "color": "#555555", "strokeWidth": 2, "strokeDash": [2, 6]},
"encoding": {"y": {"field": "v", "type": "quantitative"}}
},
{
"mark": {"type": "line", "color": "#0a84ff", "strokeWidth": 2, "interpolate": "linear"},
"encoding": {
"x": {"field": "d", "type": "temporal",
"scale": {"type": "utc", "domain": [{"year": 2019, "month": 7, "date": 2, "utc": true}, {"year": 2024, "month": 8, "date": 5, "utc": true}]},
"axis": {"orient": "bottom", "title": null, "grid": false, "domain": false,
"values": [{"year": 2020, "month": 1, "date": 1, "utc": true}, {"year": 2020, "month": 7, "date": 1, "utc": true}, {"year": 2021, "month": 1, "date": 1, "utc": true}, {"year": 2021, "month": 7, "date": 1, "utc": true}, {"year": 2022, "month": 1, "date": 1, "utc": true}, {"year": 2022, "month": 7, "date": 1, "utc": true}, {"year": 2023, "month": 1, "date": 1, "utc": true}, {"year": 2023, "month": 7, "date": 1, "utc": true}, {"year": 2024, "month": 1, "date": 1, "utc": true}, {"year": 2024, "month": 7, "date": 1, "utc": true}],
"labelExpr": "utcFormat(datum.value, '%b %Y')",
"labelFont": "Liberation Sans", "labelColor": "#6f6f6f", "labelAngle": 0, "labelFlush": false, "labelOverlap": false,
"labelBaseline": "alphabetic",
"labelFontSize": {"condition": {"test": "utcmonth(datum.value) === 0", "value": 26}, "value": 23},
"labelFontWeight": {"condition": {"test": "utcmonth(datum.value) === 0", "value": "bold"}, "value": "normal"},
"labelPadding": {"condition": {"test": "utcmonth(datum.value) === 0", "value": 34}, "value": 27.5},
"tickSize": 9, "tickWidth": 2, "tickColor": "#757575"}},
"y": {"field": "v", "type": "quantitative",
"scale": {"domain": [-76.7, 564.9], "nice": false, "zero": false},
"axis": {"orient": "right", "title": null, "grid": false, "domain": false,
"values": [-50, 0, 50, 100, 150, 200, 250, 300, 350, 400, 450, 500, 550],
"labelExpr": "(datum.value < 0 ? '-' : '+') + format(abs(datum.value), '.2f') + '%'",
"labelFont": "Liberation Sans", "labelFontSize": 22.5, "labelColor": "#6f6f6f", "labelPadding": 13, "labelBaseline": "middle", "labelAlign": "left", "labelFlush": false, "labelOverlap": false,
"tickSize": 6, "tickWidth": 3, "tickColor": "#757575"}}
}
},
{
"data": {"values": [{"d": "2024-08-05", "v": 365.35}]},
"mark": {"type": "point", "shape": "M0,-0.21 L2,-0.21 L2,0.168 L0,0.168 Z", "size": 36100, "filled": true, "opacity": 1, "strokeWidth": 0},
"encoding": {
"x": {"field": "d", "type": "temporal"},
"y": {"field": "v", "type": "quantitative"},
"color": {"datum": "GFF\u00a0\u00a0\u00a0Griffon Corporati…\u00a0\u00a0\u00a0\u00a0365.35%\u2800\u2800",
"scale": {"range": ["#0a84ff"]},
"legend": {"title": null, "orient": "top-left", "offset": 8, "padding": 0, "fillColor": "#ffffff", "strokeColor": "#e6e6e6", "cornerRadius": 8,
"symbolType": "M-1,-1 L-0.73,-1 L-0.73,1 L-1,1 Z", "symbolSize": 2704, "symbolStrokeWidth": 0, "symbolOpacity": 1,
"labelFont": "Inter", "labelFontSize": 23.5, "labelFontWeight": "bold", "labelColor": "#1f2329", "labelLimit": 1000, "labelOffset": -33}}
}
},
{
"data": {"values": [{"d": "2024-08-05", "v": 365.35, "label": "GFF\u00a0\u00a0\u00a0+365.35%"}]},
"mark": {"type": "text", "align": "left", "baseline": "middle", "dx": 13, "dy": -2, "font": "Liberation Sans", "fontSize": 22.5, "fontWeight": "bold", "color": "#ffffff"},
"encoding": {
"x": {"field": "d", "type": "temporal"},
"y": {"field": "v", "type": "quantitative"},
"text": {"field": "label"}
}
}
]
}
